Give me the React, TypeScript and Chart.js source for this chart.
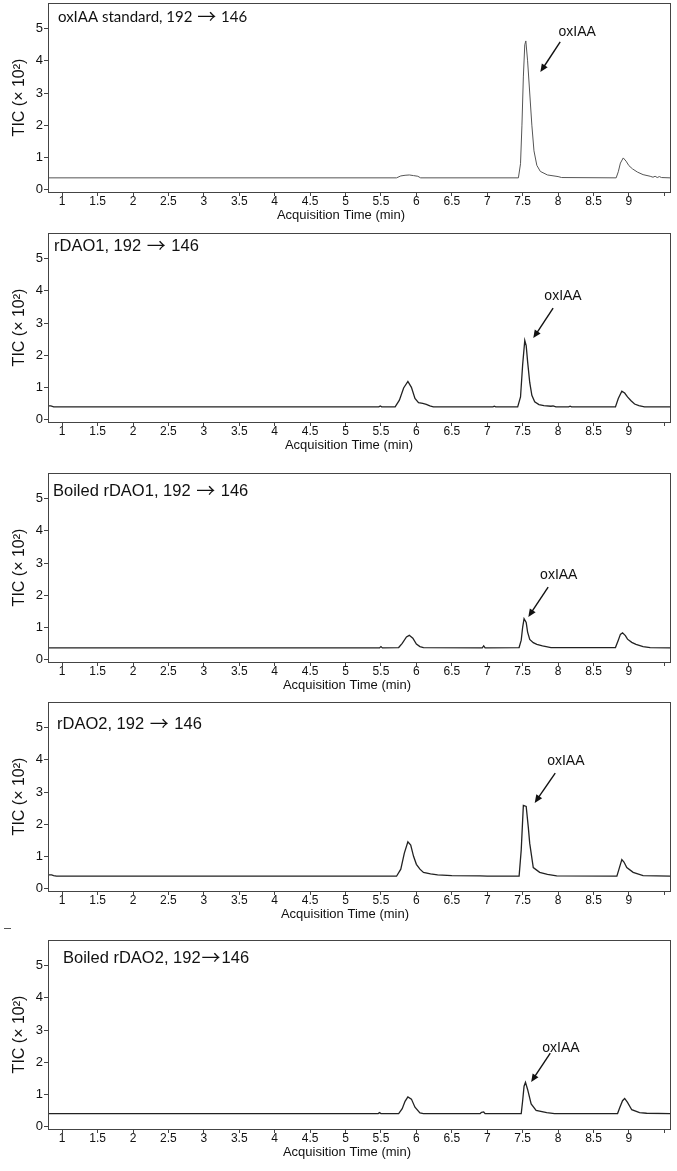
import React, { useEffect, useRef } from 'react';
import { Chart, registerables } from 'chart.js';

Chart.register(...registerables);

// ---------- data ----------
const xTicks = [1, 1.5, 2, 2.5, 3, 3.5, 4, 4.5, 5, 5.5, 6, 6.5, 7, 7.5, 8, 8.5, 9, 9.5];
const xTickLabels = ['1', '1.5', '2', '2.5', '3', '3.5', '4', '4.5', '5', '5.5', '6', '6.5', '7', '7.5', '8', '8.5', '9', ''];
const yTicks = [0, 1, 2, 3, 4, 5];
const yTickLabels = ['0', '1', '2', '3', '4', '5'];

const panelTitles = [
  'oxIAA standard, 192 \u2192 146',
  'rDAO1, 192 \u2192 146',
  'Boiled rDAO1, 192 \u2192 146',
  'rDAO2, 192 \u2192 146',
  'Boiled rDAO2, 192\u2192146',
];
const peakLabel = 'oxIAA';
const xAxisTitle = 'Acquisition Time (min)';
const yAxisTitle = 'TIC (\u00d7 10\u00b2)';

// oxIAA standard
const stdTime = [0.8, 5.72, 5.78, 5.84, 5.9, 5.96, 6.02, 6.06, 7.44, 7.47, 7.49, 7.51, 7.53, 7.545, 7.57, 7.6, 7.63, 7.66, 7.7, 7.75, 7.85, 8.0, 8.05, 8.82, 8.85, 8.88, 8.92, 8.96, 9.0, 9.05, 9.12, 9.2, 9.3, 9.34, 9.37, 9.4, 9.43, 9.46, 9.58];
const stdTIC = [0.36, 0.36, 0.42, 0.44, 0.45, 0.43, 0.41, 0.36, 0.36, 0.8, 2.0, 3.5, 4.5, 4.62, 4.0, 3.0, 2.0, 1.2, 0.75, 0.56, 0.45, 0.4, 0.37, 0.36, 0.55, 0.82, 0.98, 0.88, 0.74, 0.64, 0.54, 0.46, 0.41, 0.38, 0.41, 0.37, 0.4, 0.37, 0.36];

// rDAO1
const rd1Time = [0.8, 0.84, 0.88, 5.47, 5.49, 5.51, 5.7, 5.76, 5.82, 5.88, 5.93, 5.98, 6.03, 6.09, 6.14, 6.19, 6.24, 7.08, 7.1, 7.12, 7.43, 7.47, 7.5, 7.53, 7.55, 7.57, 7.6, 7.63, 7.67, 7.73, 7.8, 7.9, 7.93, 7.97, 8.15, 8.17, 8.19, 8.81, 8.85, 8.9, 8.94, 8.98, 9.03, 9.08, 9.14, 9.22, 9.58];
const rd1TIC = [0.42, 0.42, 0.39, 0.39, 0.42, 0.39, 0.39, 0.6, 0.98, 1.18, 1.0, 0.65, 0.52, 0.5, 0.47, 0.42, 0.39, 0.39, 0.41, 0.39, 0.39, 0.7, 1.7, 2.46, 2.3, 1.8, 1.15, 0.75, 0.55, 0.46, 0.43, 0.41, 0.42, 0.39, 0.39, 0.41, 0.39, 0.39, 0.65, 0.88, 0.82, 0.7, 0.58, 0.48, 0.43, 0.39, 0.39];

// Boiled rDAO1
const brd1Time = [0.8, 5.48, 5.5, 5.52, 5.75, 5.8, 5.86, 5.9, 5.95, 6.0, 6.05, 6.1, 6.93, 6.95, 6.97, 7.45, 7.48, 7.5, 7.52, 7.55, 7.57, 7.6, 7.65, 7.7, 7.78, 7.9, 8.81, 8.85, 8.88, 8.91, 8.95, 8.98, 9.04, 9.1, 9.2, 9.3, 9.58];
const brd1TIC = [0.36, 0.36, 0.4, 0.36, 0.37, 0.5, 0.7, 0.75, 0.66, 0.48, 0.4, 0.37, 0.36, 0.42, 0.36, 0.37, 0.6, 1.0, 1.27, 1.15, 0.85, 0.62, 0.52, 0.47, 0.42, 0.37, 0.37, 0.6, 0.78, 0.83, 0.74, 0.63, 0.53, 0.47, 0.4, 0.37, 0.36];

// rDAO2
const rd2Time = [0.8, 0.85, 0.88, 0.92, 5.72, 5.78, 5.83, 5.88, 5.92, 5.96, 6.0, 6.05, 6.1, 6.2, 6.3, 6.5, 6.9, 7.0, 7.45, 7.48, 7.51, 7.55, 7.58, 7.6, 7.65, 7.74, 7.85, 7.98, 8.83, 8.86, 8.9, 8.93, 8.97, 9.06, 9.2, 9.58];
const rd2TIC = [0.42, 0.42, 0.4, 0.38, 0.38, 0.6, 1.1, 1.45, 1.35, 1.0, 0.75, 0.6, 0.5, 0.45, 0.42, 0.4, 0.39, 0.38, 0.38, 1.2, 2.58, 2.55, 1.9, 1.4, 0.65, 0.5, 0.44, 0.39, 0.38, 0.6, 0.9, 0.82, 0.65, 0.5, 0.4, 0.38];

// Boiled rDAO2
const brd2Time = [0.8, 5.46, 5.48, 5.5, 5.75, 5.8, 5.84, 5.88, 5.93, 5.98, 6.05, 6.1, 6.9, 6.92, 6.95, 6.97, 7.48, 7.5, 7.52, 7.54, 7.57, 7.62, 7.69, 7.84, 7.95, 8.84, 8.87, 8.91, 8.94, 8.98, 9.04, 9.15, 9.25, 9.58];
const brd2TIC = [0.4, 0.4, 0.43, 0.4, 0.4, 0.55, 0.78, 0.92, 0.85, 0.6, 0.42, 0.4, 0.4, 0.44, 0.45, 0.4, 0.4, 0.8, 1.25, 1.37, 1.15, 0.7, 0.5, 0.43, 0.4, 0.4, 0.58, 0.8, 0.87, 0.75, 0.52, 0.43, 0.41, 0.4];

const seriesTime = [stdTime, rd1Time, brd1Time, rd2Time, brd2Time];
const seriesTIC = [stdTIC, rd1TIC, brd1TIC, rd2TIC, brd2TIC];

// ---------- layout (positions / styles) ----------
const X_MIN = 0.8;
const X_MAX = 9.58;
const Y_MIN = -0.08;
const Y_MAX = 5.8;
const PANEL_TOPS = [3, 233, 473, 702, 940];
const PLOT_H = 189;
const PAD_TOP = 3;
const X_AXIS_H = 36;
const CANVAS_W = 677;
const FONT = '"Liberation Sans", Arial, Helvetica, sans-serif';
const ARROW_FONT = '"Noto Sans CJK SC", "DejaVu Sans", sans-serif';

const PANEL_LAYOUT = [
  { titleDx: 10, titleDy: 14, titleFont: '15px Lato, "Liberation Sans", sans-serif', arrowSize: 19, lineColor: '#555', lineWidth: 1,
    label: [8.27, 4.9], arrowFrom: [8.03, 4.59], arrowTo: [7.75, 3.65], xTitleX: 341 },
  { titleDx: 6, titleDy: 13, titleFont: '16.5px ' + FONT, arrowSize: 19, lineColor: '#222', lineWidth: 1.3,
    label: [8.07, 3.84], arrowFrom: [7.93, 3.46], arrowTo: [7.65, 2.53], xTitleX: 349 },
  { titleDx: 5, titleDy: 18, titleFont: '16.5px ' + FONT, arrowSize: 19, lineColor: '#222', lineWidth: 1.3,
    label: [8.01, 2.63], arrowFrom: [7.86, 2.25], arrowTo: [7.58, 1.32], xTitleX: 347 },
  { titleDx: 9, titleDy: 22, titleFont: '16.5px ' + FONT, arrowSize: 19, lineColor: '#222', lineWidth: 1.3,
    label: [8.11, 3.96], arrowFrom: [7.96, 3.59], arrowTo: [7.67, 2.66], xTitleX: 345 },
  { titleDx: 15, titleDy: 18, titleFont: '16.5px ' + FONT, arrowSize: 19, lineColor: '#222', lineWidth: 1.3,
    label: [8.04, 2.44], arrowFrom: [7.89, 2.28], arrowTo: [7.62, 1.38], xTitleX: 347 },
];

function drawTitle(ctx: CanvasRenderingContext2D, text: string, x: number, y: number, font: string, arrowSize: number) {
  const parts = text.split('\u2192');
  let cx = x;
  parts.forEach((part, i) => {
    ctx.font = font;
    ctx.fillText(part, cx, y);
    cx += ctx.measureText(part).width;
    if (i < parts.length - 1) {
      ctx.font = arrowSize + 'px ' + ARROW_FONT;
      ctx.fillText('\u2192', cx + 1, y);
      cx += ctx.measureText('\u2192').width + 2;
    }
  });
}

const decorPlugin = {
  id: 'panelDecor',
  afterDraw(chart: any, _args: any, opts: any) {
    const { ctx, chartArea: a, scales } = chart;
    const xs = scales.x;
    const ys = scales.y;
    const L = opts.layout;
    ctx.save();
    // frame
    ctx.strokeStyle = '#444';
    ctx.lineWidth = 1;
    ctx.strokeRect(Math.round(a.left) + 0.5, Math.round(a.top) + 0.5, Math.round(a.right - a.left), Math.round(a.bottom - a.top));
    // panel title
    ctx.fillStyle = '#111';
    ctx.textBaseline = 'middle';
    ctx.textAlign = 'left';
    drawTitle(ctx, opts.title, a.left + L.titleDx, a.top + L.titleDy, L.titleFont, L.arrowSize);
    // peak label
    ctx.font = '14px ' + FONT;
    ctx.textAlign = 'center';
    ctx.fillText(peakLabel, xs.getPixelForValue(L.label[0]), ys.getPixelForValue(L.label[1]));
    // arrow
    const x1 = xs.getPixelForValue(L.arrowFrom[0]);
    const y1 = ys.getPixelForValue(L.arrowFrom[1]);
    const x2 = xs.getPixelForValue(L.arrowTo[0]);
    const y2 = ys.getPixelForValue(L.arrowTo[1]);
    const ang = Math.atan2(y2 - y1, x2 - x1);
    const headLen = 8;
    const headW = 3.5;
    ctx.strokeStyle = '#111';
    ctx.lineWidth = 1.4;
    ctx.beginPath();
    ctx.moveTo(x1, y1);
    ctx.lineTo(x2 - Math.cos(ang) * headLen * 0.8, y2 - Math.sin(ang) * headLen * 0.8);
    ctx.stroke();
    ctx.beginPath();
    ctx.moveTo(x2, y2);
    ctx.lineTo(x2 - Math.cos(ang) * headLen - Math.sin(ang) * headW, y2 - Math.sin(ang) * headLen + Math.cos(ang) * headW);
    ctx.lineTo(x2 - Math.cos(ang) * headLen + Math.sin(ang) * headW, y2 - Math.sin(ang) * headLen - Math.cos(ang) * headW);
    ctx.closePath();
    ctx.fillStyle = '#111';
    ctx.fill();
    // x axis title
    ctx.fillStyle = '#111';
    ctx.font = '13px ' + FONT;
    ctx.textAlign = 'center';
    ctx.textBaseline = 'middle';
    ctx.fillText(xAxisTitle, L.xTitleX, a.bottom + 23);
    ctx.restore();
  },
};

function Panel({ idx }: { idx: number }) {
  const ref = useRef<HTMLCanvasElement | null>(null);
  useEffect(() => {
    if (!ref.current) return;
    const L = PANEL_LAYOUT[idx];
    const times = seriesTime[idx];
    const vals = seriesTIC[idx];
    const chart = new Chart(ref.current, {
      type: 'line',
      data: {
        datasets: [
          {
            data: times.map((t, i) => ({ x: t, y: vals[i] })),
            borderColor: L.lineColor,
            borderWidth: L.lineWidth,
            pointRadius: 0,
            tension: 0,
            fill: false,
          },
        ],
      },
      options: {
        animation: false,
        responsive: false,
        devicePixelRatio: 1,
        events: [],
        layout: { padding: { top: PAD_TOP, left: 0, right: 7, bottom: 0 }, autoPadding: false },
        plugins: {
          legend: { display: false },
          tooltip: { enabled: false },
          panelDecor: { layout: L, title: panelTitles[idx] },
        } as any,
        scales: {
          x: {
            type: 'linear',
            min: X_MIN,
            max: X_MAX,
            border: { display: false },
            grid: { display: true, drawOnChartArea: false, drawTicks: true, tickLength: 4, color: '#444' },
            ticks: {
              autoSkip: false,
              maxRotation: 0,
              padding: -2,
              color: '#111',
              font: { family: FONT, size: 12 },
              callback: (_v: any, i: number) => xTickLabels[i],
            },
            afterBuildTicks: (s: any) => {
              s.ticks = xTicks.map((v) => ({ value: v }));
            },
            afterFit: (s: any) => {
              s.height = X_AXIS_H;
              s.paddingLeft = 0;
              s.paddingRight = 0;
            },
          },
          y: {
            type: 'linear',
            min: Y_MIN,
            max: Y_MAX,
            border: { display: false },
            grid: { display: true, drawOnChartArea: false, drawTicks: true, tickLength: 4, color: '#444' },
            ticks: {
              padding: 1,
              color: '#111',
              font: { family: FONT, size: 13 },
              callback: (_v: any, i: number) => yTickLabels[i],
            },
            afterBuildTicks: (s: any) => {
              s.ticks = yTicks.map((v) => ({ value: v }));
            },
            afterFit: (s: any) => {
              s.width = 48;
              s.paddingTop = 0;
              s.paddingBottom = 0;
            },
            title: {
              display: true,
              text: yAxisTitle,
              color: '#111',
              font: { family: FONT, size: 16 },
              padding: { top: 10, bottom: 0 },
            },
          },
        },
      },
      plugins: [decorPlugin as any],
    });
    return () => chart.destroy();
  }, [idx]);
  const h = PAD_TOP + PLOT_H + X_AXIS_H;
  return (
    <canvas
      ref={ref}
      width={CANVAS_W}
      height={h}
      style={{ position: 'absolute', left: 0, top: PANEL_TOPS[idx] - PAD_TOP, width: CANVAS_W, height: h, display: 'block' }}
    />
  );
}

export default function App() {
  return (
    <div style={{ position: 'absolute', left: 0, top: 0, width: 677, height: 1171, background: '#fff', overflow: 'hidden' }}>
      {PANEL_TOPS.map((_, i) => (
        <Panel key={i} idx={i} />
      ))}
      <div style={{ position: 'absolute', left: 4, top: 928, width: 7, height: 1, background: '#555' }} />
    </div>
  );
}
